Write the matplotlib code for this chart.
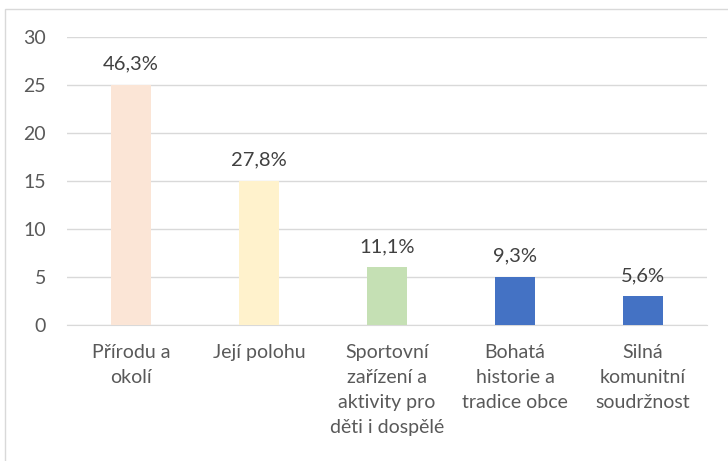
import matplotlib
matplotlib.use("Agg")
import matplotlib.pyplot as plt
from matplotlib.patches import Rectangle

categories = ["Přírodu a\nokolí", "Její polohu", "Sportovní\nzařízení a\naktivity pro\nděti i dospělé",
              "Bohatá\nhistorie a\ntradice obce", "Silná\nkomunitní\nsoudržnost"]
values = [25, 15, 6, 5, 3]
labels = ["46,3%", "27,8%", "11,1%", "9,3%", "5,6%"]
colors = ["#FBE5D6", "#FFF2CC", "#C5E0B4", "#4472C4", "#4472C4"]
yticks = [0, 5, 10, 15, 20, 25, 30]

plt.rcParams["font.family"] = ["Lato", "DejaVu Sans"]
text_color = "#595959"

fig = plt.figure(figsize=(7.28, 4.61), dpi=100)
ax = fig.add_axes([67 / 728, 1 - 325 / 461, 640 / 728, 288 / 461])

x = range(len(categories))
bars = ax.bar(x, values, width=0.31, color=colors, zorder=3)
for b, lab in zip(bars, labels):
    ax.annotate(lab, (b.get_x() + b.get_width() / 2, b.get_height()),
                xytext=(0, 11), textcoords="offset points", ha="center", va="baseline",
                fontsize=14.5, color="#404040")

ax.set_xlim(-0.5, len(categories) - 0.5)
ax.set_ylim(0, 30)
ax.set_yticks(yticks)
ax.yaxis.grid(True, color="#D9D9D9", linewidth=1, zorder=0)
ax.set_xticks(list(x))
ax.set_xticklabels(categories, fontsize=14, color=text_color, linespacing=1.55, va="top")
ax.tick_params(axis="y", labelsize=14, labelcolor=text_color, length=0, pad=15)
ax.tick_params(axis="x", length=0, pad=14)
for s in ["top", "right", "left"]:
    ax.spines[s].set_visible(False)
ax.spines["bottom"].set_color("#D9D9D9")

fig.patches.append(Rectangle((5 / 728, -0.1), 1.1, 1 - 9 / 461 + 0.1, transform=fig.transFigure,
                             fill=False, edgecolor="#D9D9D9", linewidth=1))

fig.savefig("out.png", dpi=100)
